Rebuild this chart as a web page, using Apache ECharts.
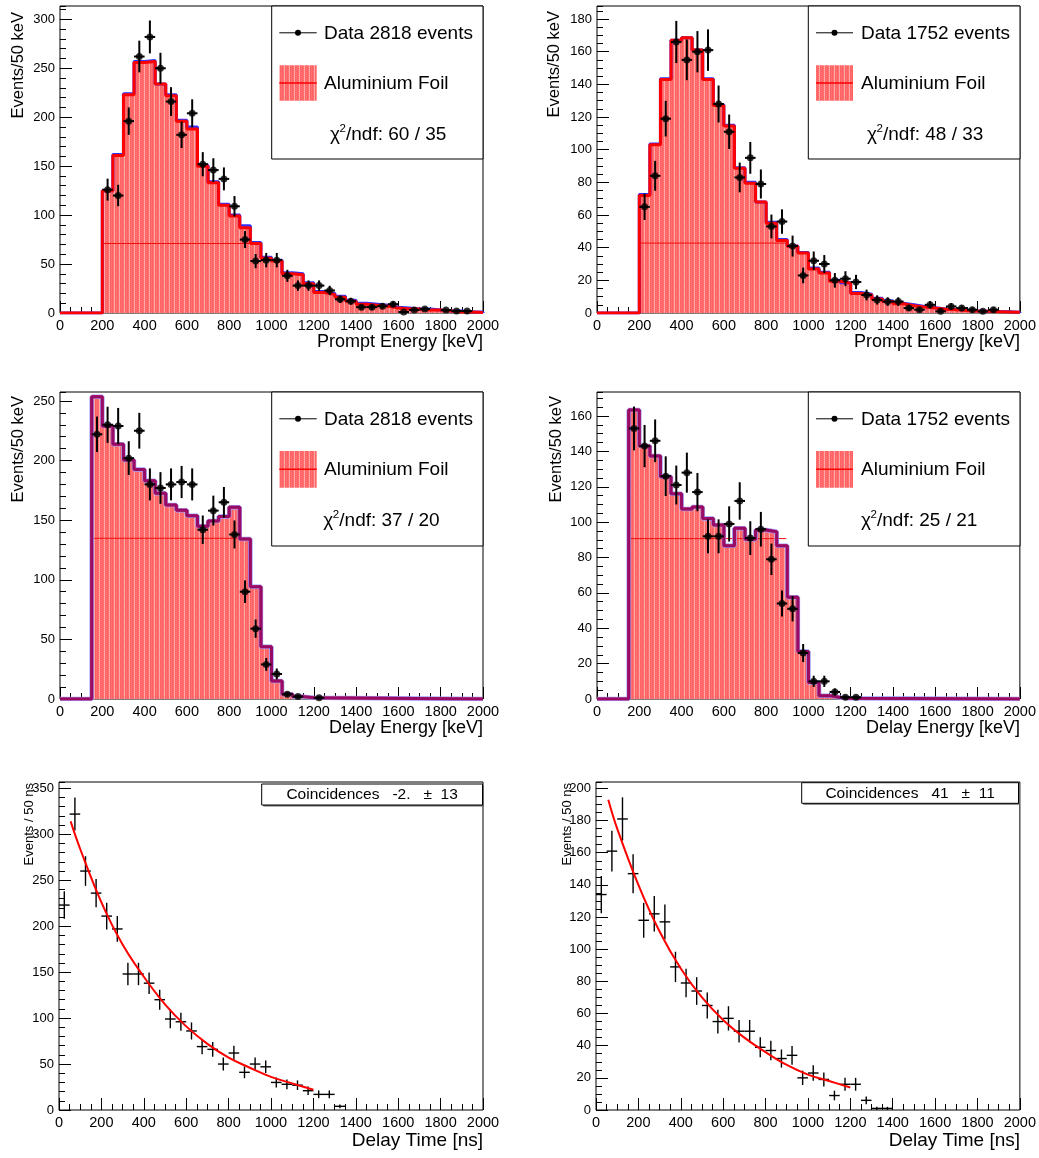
<!DOCTYPE html>
<html><head><meta charset="utf-8">
<script src="https://cdn.jsdelivr.net/npm/echarts@6/dist/echarts.min.js"></script>
<style>html,body{margin:0;padding:0;background:#fff}#c{width:1039px;height:1158px}</style>
</head><body><div id="c"></div>
<script>
// ---------------- DATA ----------------
const BINW = 50;
// Panel 1: Prompt energy, 2818 events
const p1DataX = [225,275,325,375,425,475,525,575,625,675,725,775,825,875,925,975,1025,1075,1125,1175,1225,1275,1325,1375,1425,1475,1525,1575,1625,1675,1725,1825,1875,1925];
const p1DataY = [126,120,196,262,282,250,216,182,204,152,146,137,109,75,53,54,54,38,28,28,28,23,14,12,6,6,7,9,1,3,4,3,2,2];
const p1McStart = 200;
const p1McRed  = [125,161,223,256,257,234,222,196,188,150,133,110,99,87,71,56,53,40,39,30,21,19,16,12,9,8,7,5,4,4,3,3,2,1,1,0.5];
const p1McBlue = [125,162,224,257,258,234,223,197,190,151,134,111,100,89,72,57,54,41,40,31,22,20,17,13,10,9,8,6,5,4,4,3,2,2,1,1];
const p1FlatLevel = 71, p1FlatRange = [200, 905];

// Panel 2: Prompt energy, 1752 events
const p2DataX = [225,275,325,375,425,475,525,575,625,675,725,775,825,875,925,975,1025,1075,1125,1175,1225,1275,1325,1375,1425,1475,1525,1575,1625,1675,1725,1775,1825,1875];
const p2DataY = [65,84,119,166,155,160,161,128,111,83,95,79,53,56,41,23,32,30,20,21,19,11,8,7,7,3,2,5,1,4,3,2,1,2];
const p2McStart = 200;
const p2McRed  = [72,103,143,167,168.5,161,143,127,114.5,88.7,79.5,68,55,44.4,40.8,36.7,27,24.5,19.4,18.3,12,11,8.6,7,5.7,4.5,3.7,3,2.3,2,1.6,1.2,1,0.8,0.6,0.4];
const p2McBlue = [72.5,103.5,143.5,167,168.5,161,143.5,127.5,115,89,80,68,55.5,45,41,37,27.5,25,20,18.5,12.5,11.5,9,7.5,6,5,4,3.2,2.5,2.2,1.8,1.4,1.1,0.9,0.7,0.5];
const p2FlatLevel = 42.8, p2FlatRange = [200, 898];

// Panel 3: Delay energy, 2818 events
const p3DataX = [175,225,275,325,375,425,475,525,575,625,675,725,775,825,875,925,975,1025,1075,1125,1225];
const p3DataY = [222,230,229,202,225,180,177,180,182,180,142,158,165,138,90,59,29,21,4,2,1];
const p3McStart = 150;
const p3Mc = [253.6,229,213.6,200.5,192.4,183,172.5,162.8,158.3,153.8,145,149.3,153,160.8,134.2,94.2,43.9,15,4,2,1];
const p3FlatLevel = 134.8, p3FlatRange = [150, 890];

// Panel 4: Delay energy, 1752 events
const p4DataX = [175,225,275,325,375,425,475,525,575,625,675,725,775,825,875,925,975,1025,1075,1125,1175,1225];
const p4DataY = [153,143,146,126,121,128,117,92,92,99,112,91,96,79,54,51,26,10,10,4,1,1];
const p4McStart = 150;
const p4Mc = [163.4,143,137.4,125.7,116,107.4,108.6,102,98.4,86.7,96.5,90.3,95.6,94.6,86.7,57.5,26.8,9.4,1.9,0.8,0.4];
const p4FlatLevel = 90.7, p4FlatRange = [150, 895];

// Panel 5: Delay time (left)
const p5DataX = [25,75,125,175,225,275,325,375,425,475,525,575,625,675,725,775,825,875,925,975,1025,1075,1125,1175,1225,1275,1325];
const p5DataY = [223,322,260,236,211,197,148,148,138,120,99,96,86,69,66,50,62,41,50,47,30,28,27,21,17,17,4];
const p5FitX = [55,100,200,300,400,500,600,700,800,900,1000,1100,1200];
const p5FitY = [314,284,226,180,145,115,91,72,57,46,36,29,22];

// Panel 6: Delay time (right)
const p6DataX = [25,75,125,175,225,275,325,375,425,475,525,575,625,675,725,775,825,875,925,975,1025,1075,1125,1175,1225,1275,1325,1375];
const p6DataY = [134,161,181,147,118,122,117,89,79,74,65,55,57,49,49,39,37,32,34,20,23,19,9,16,16,6,1,1];
const p6FitX = [58,100,200,300,400,500,600,700,800,900,1000,1100,1200];
const p6FitY = [193,175,140,111,88,70,56,45,36,28,22,18,14];

// axis ranges
const xRange = [0, 2000];
const xMajor = 200;
const yMax   = [313.6, 188, 257.5, 173.6, 356.9, 204];
const yMajor = [50, 20, 50, 20, 50, 20];
const yMinor = [10, 5, 10, 5, 10, 5];

// ---------------- LAYOUT / STYLE ----------------
const FONT = "'Liberation Sans', Arial, Helvetica, sans-serif";
const grids = [
  {left:60,  top:6,   width:423, height:307},
  {left:597, top:6,   width:423, height:307},
  {left:60,  top:392, width:423, height:307},
  {left:597, top:392, width:423, height:307},
  {left:59,  top:782, width:424, height:328},
  {left:596, top:782, width:424, height:328}
];

function makePattern(){
  const cv = document.createElement('canvas'); cv.width = 5; cv.height = 2;
  const g = cv.getContext('2d');
  g.fillStyle = '#ff6262'; g.fillRect(0,0,5,2);
  g.fillStyle = '#ff7c7c'; g.fillRect(1,0,1,1); g.fillRect(3,1,1,1);
  g.fillStyle = '#ffa8a8'; g.fillRect(4,0,1,2);
  return cv;
}
const PAT = {image: makePattern(), repeat: 'repeat'};

function stepPoints(start, vals){
  const pts = [[xRange[0], 0]];
  vals.forEach((v,i) => pts.push([start + i*BINW, v]));
  pts.push([start + vals.length*BINW, 0]);
  pts.push([xRange[1], 0]);
  return pts;
}

function errRender(lw){
  return function(params, api){
    const x = api.value(0), y = api.value(1), e = api.value(2), hw = api.value(3);
    const p = api.coord([x, y]), pl = api.coord([x, y - e]), ph = api.coord([x, y + e]);
    const pa = api.coord([x - hw, y]), pb = api.coord([x + hw, y]);
    return {type:'group', children:[
      {type:'line', shape:{x1:p[0], y1:pl[1], x2:p[0], y2:ph[1]}, style:{stroke:'#000', lineWidth:lw}},
      {type:'line', shape:{x1:pa[0], y1:p[1], x2:pb[0], y2:p[1]}, style:{stroke:'#000', lineWidth:lw}}
    ]};
  };
}
function errData(xs, ys){ return xs.map((x,i) => [x, ys[i], Math.sqrt(ys[i]), BINW/2]); }

const xAxes = [], yAxes = [], series = [];
grids.forEach((g, i) => {
  xAxes.push({gridIndex:i, type:'value', min:xRange[0], max:xRange[1], interval:xMajor,
    axisLine:{show:false},
    axisTick:{show:true, inside:true, length:12, lineStyle:{color:'#000', width:1}},
    minorTick:{show:true, splitNumber:4, length:6, lineStyle:{color:'#000', width:1}},
    axisLabel:{color:'#000', fontSize:14.5, fontFamily:FONT, margin:5, formatter: v => String(v)},
    splitLine:{show:false}, minorSplitLine:{show:false}});
  const iv = yMajor[i];
  yAxes.push({gridIndex:i, type:'value', position:'left', min:0, max:yMax[i], interval:iv,
    axisLine:{show:false},
    axisTick:{show:true, inside:true, length:12, lineStyle:{color:'#000', width:1}},
    axisLabel:{color:'#000', fontSize:13, fontFamily:FONT, margin:5, showMaxLabel:false,
      formatter: v => (Math.abs(v/iv - Math.round(v/iv)) < 1e-6 ? String(Math.round(v)) : '')},
    splitLine:{show:false}});
  yAxes.push({gridIndex:i, type:'value', position:'left', min:0, max:yMax[i], interval:yMinor[i],
    axisLine:{show:false},
    axisTick:{show:true, inside:true, length:6, lineStyle:{color:'#000', width:1}},
    axisLabel:{show:false}, splitLine:{show:false}});
});

function histPanel(i, o){
  const xi = i, yi = 2*i;
  const redPts = stepPoints(o.start, o.red);
  const bluePts = stepPoints(o.start, o.blue);
  series.push({type:'line', xAxisIndex:xi, yAxisIndex:yi, step:'end', data:redPts, symbol:'none',
    lineStyle:{width:0, opacity:0}, areaStyle:{color:PAT, opacity:1}, z:1, silent:true});
  series.push({type:'line', xAxisIndex:xi, yAxisIndex:yi, data:[[o.flatRange[0], o.flatLevel],[o.flatRange[1], o.flatLevel]],
    symbol:'none', lineStyle:{color:'#ee1010', width:1}, z:2, silent:true});
  if (!o.purple){
    series.push({type:'line', xAxisIndex:xi, yAxisIndex:yi, step:'end', data:bluePts, symbol:'none',
      lineStyle:{color:'#3030ff', width:3}, z:3, silent:true});
    series.push({type:'line', xAxisIndex:xi, yAxisIndex:yi, step:'end', data:redPts, symbol:'none',
      lineStyle:{color:'#ff0000', width:3}, z:4, silent:true});
  } else {
    series.push({type:'line', xAxisIndex:xi, yAxisIndex:yi, step:'end', data:bluePts, symbol:'none',
      lineStyle:{color:'#9a9aff', width:4.5}, z:3, silent:true});
    series.push({type:'line', xAxisIndex:xi, yAxisIndex:yi, step:'end', data:redPts, symbol:'none',
      lineStyle:{color:'#ff0000', width:3}, z:4, silent:true});
    series.push({type:'line', xAxisIndex:xi, yAxisIndex:yi, step:'end', data:bluePts, symbol:'none',
      lineStyle:{color:'rgba(50,20,200,0.5)', width:3}, z:5, silent:true});
  }
  series.push({type:'custom', xAxisIndex:xi, yAxisIndex:yi, renderItem:errRender(2),
    data:errData(o.x, o.y), encode:{x:0, y:1}, z:6, clip:true, silent:true});
  series.push({type:'scatter', xAxisIndex:xi, yAxisIndex:yi, data:o.x.map((x,k) => [x, o.y[k]]),
    symbol:'circle', symbolSize:7, itemStyle:{color:'#000'}, z:7, silent:true});
}
function timePanel(i, o){
  const xi = i, yi = 2*i;
  series.push({type:'custom', xAxisIndex:xi, yAxisIndex:yi, renderItem:errRender(1.4),
    data:errData(o.x, o.y), encode:{x:0, y:1}, z:5, clip:true, silent:true});
  series.push({type:'line', xAxisIndex:xi, yAxisIndex:yi, data:o.fx.map((x,k) => [x, o.fy[k]]),
    smooth:0.4, symbol:'none', lineStyle:{color:'#ff0000', width:2}, z:6, silent:true});
}

histPanel(0, {x:p1DataX, y:p1DataY, start:p1McStart, red:p1McRed, blue:p1McBlue, flatLevel:p1FlatLevel, flatRange:p1FlatRange});
histPanel(1, {x:p2DataX, y:p2DataY, start:p2McStart, red:p2McRed, blue:p2McBlue, flatLevel:p2FlatLevel, flatRange:p2FlatRange});
histPanel(2, {x:p3DataX, y:p3DataY, start:p3McStart, red:p3Mc, blue:p3Mc, flatLevel:p3FlatLevel, flatRange:p3FlatRange, purple:true});
histPanel(3, {x:p4DataX, y:p4DataY, start:p4McStart, red:p4Mc, blue:p4Mc, flatLevel:p4FlatLevel, flatRange:p4FlatRange, purple:true});
timePanel(4, {x:p5DataX, y:p5DataY, fx:p5FitX, fy:p5FitY});
timePanel(5, {x:p6DataX, y:p6DataY, fx:p6FitX, fy:p6FitY});

// ---------------- GRAPHICS (legends, titles) ----------------
const graphic = [];
function txt(x, y, text, size, align, valign, extra){
  const el = {type:'text', x:x, y:y, silent:true, z:100,
    style:{text:text, fill:'#000', fontSize:size, fontFamily:FONT, align:align, verticalAlign:valign,
           textAlign:align, textVerticalAlign:valign}};
  return Object.assign(el, extra || {});
}
function legendBox(b, sx, tx, chiX, rows, rectY, events, chi){
  graphic.push({type:'rect', shape:{x:b[0], y:b[1], width:b[2]-b[0], height:b[3]-b[1]},
    style:{fill:'#fff', stroke:'#000', lineWidth:1}, z:90, silent:true});
  const ly = rows[0] - 0.5;
  graphic.push({type:'line', shape:{x1:sx[0], y1:ly, x2:sx[1], y2:ly}, style:{stroke:'#000', lineWidth:1}, z:95, silent:true});
  graphic.push({type:'circle', shape:{cx:(sx[0]+sx[1])/2, cy:ly, r:3}, style:{fill:'#000'}, z:96, silent:true});
  graphic.push(txt(tx, rows[0], 'Data ' + events + ' events', 19, 'left', 'middle'));
  graphic.push({type:'rect', shape:{x:sx[0], y:rectY[0], width:sx[1]-sx[0], height:rectY[1]-rectY[0]},
    style:{fill:PAT}, z:95, silent:true});
  const my = (rectY[0]+rectY[1])/2;
  graphic.push({type:'line', shape:{x1:sx[0], y1:my, x2:sx[1], y2:my}, style:{stroke:'#ff0000', lineWidth:1.5}, z:96, silent:true});
  graphic.push(txt(tx, rows[1], 'Aluminium Foil', 19, 'left', 'middle'));
  graphic.push(txt(chiX, rows[2], 'χ', 19, 'left', 'middle'));
  graphic.push(txt(chiX + 9.5, rows[2] - 6, '2', 11.5, 'left', 'middle'));
  graphic.push(txt(chiX + 16, rows[2], '/ndf: ' + chi, 19, 'left', 'middle'));
}
legendBox([271.7,6,483,159],   [279.3,316.7], 324, 330,   [33.3,84,135], [65.3,100.7], 2818, '60 / 35');
legendBox([808.3,6,1020,159],  [816,853],     861, 867,   [33.3,84,135], [65.3,100.7], 1752, '48 / 33');
legendBox([271.7,392,483,546], [279.3,316.7], 324, 323.3, [419.3,470,521], [451,487.7], 2818, '37 / 20');
legendBox([808.3,392,1020,546],[816,853],     861, 861,   [419.3,470,521], [451,487.7], 1752, '25 / 21');

function coincBox(b, text){
  graphic.push({type:'rect', shape:{x:b[0]+1.5, y:b[1]+1.5, width:b[2]-b[0], height:b[3]-b[1]},
    style:{fill:'#666'}, z:89, silent:true});
  graphic.push({type:'rect', shape:{x:b[0], y:b[1], width:b[2]-b[0], height:b[3]-b[1]},
    style:{fill:'#fff', stroke:'#000', lineWidth:1}, z:90, silent:true});
  graphic.push(txt((b[0]+b[2])/2, (b[1]+b[3])/2 + 0.5, text, 15.5, 'center', 'middle'));
}
coincBox([261.7,784,482.5,805], 'Coincidences   -2.   \u00B1  13');
coincBox([801.7,782.7,1018.5,803.3], 'Coincidences   41   \u00B1  11');

// axis titles
graphic.push(txt(483, 342, 'Prompt Energy [keV]', 18, 'right', 'middle'));
graphic.push(txt(1020, 342, 'Prompt Energy [keV]', 18, 'right', 'middle'));
graphic.push(txt(483, 728, 'Delay Energy [keV]', 18, 'right', 'middle'));
graphic.push(txt(1020, 728, 'Delay Energy [keV]', 18, 'right', 'middle'));
graphic.push(txt(483, 1141, 'Delay Time [ns]', 19, 'right', 'middle'));
graphic.push(txt(1020, 1141, 'Delay Time [ns]', 19, 'right', 'middle'));
graphic.push(txt(18, 12, 'Events/50 keV', 16.5, 'right', 'middle', {rotation: Math.PI/2}));
graphic.push(txt(554, 11, 'Events/50 keV', 16.5, 'right', 'middle', {rotation: Math.PI/2}));
graphic.push(txt(18, 396, 'Events/50 keV', 16.5, 'right', 'middle', {rotation: Math.PI/2}));
graphic.push(txt(556, 396, 'Events/50 keV', 16.5, 'right', 'middle', {rotation: Math.PI/2}));
graphic.push(txt(29, 783, 'Events / 50 ns', 13, 'right', 'middle', {rotation: Math.PI/2}));
graphic.push(txt(567, 783, 'Events / 50 ns', 13, 'right', 'middle', {rotation: Math.PI/2}));

const chart = echarts.init(document.getElementById('c'), null, {renderer:'canvas', width:1039, height:1158});
chart.setOption({
  animation:false,
  backgroundColor:'#fff',
  grid: grids.map(g => Object.assign({show:true, borderColor:'#000', borderWidth:1, backgroundColor:'transparent'}, g)),
  xAxis: xAxes,
  yAxis: yAxes,
  series: series,
  graphic: graphic
});
</script></body></html>
